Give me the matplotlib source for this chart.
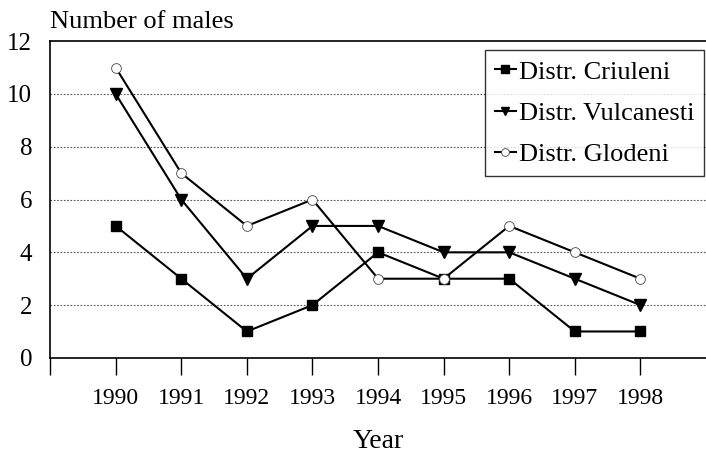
import matplotlib
matplotlib.use("Agg")
import matplotlib.pyplot as plt

years = [1990, 1991, 1992, 1993, 1994, 1995, 1996, 1997, 1998]
criuleni = [5, 3, 1, 2, 4, 3, 3, 1, 1]
vulcanesti = [10, 6, 3, 5, 5, 4, 4, 3, 2]
glodeni = [11, 7, 5, 6, 3, 3, 5, 4, 3]
yticks = [0, 2, 4, 6, 8, 10, 12]

plt.rcParams['font.family'] = ['Liberation Serif', 'DejaVu Serif']

fig = plt.figure(figsize=(7.06, 4.53), dpi=100)
ax = fig.add_axes([0.071, 0.21, 0.929, 0.699])

ax.plot(years, criuleni, color='black', lw=1.5, marker='s', ms=7,
        label='Distr. Criuleni')
ax.plot(years, vulcanesti, color='black', lw=1.5, marker='v', ms=8,
        label='Distr. Vulcanesti')
ax.plot(years, glodeni, color='black', lw=1.5, marker='o', ms=7,
        mfc='white', mec='#444444', mew=0.6, label='Distr. Glodeni')

ax.set_xlim(1989, 1999)
ax.set_ylim(0, 12)
ax.set_yticks(yticks)
ax.set_xticks([1989] + years)
ax.set_xticklabels([''] + [str(y) for y in years])
ax.tick_params(axis='x', length=12, width=1, pad=10, labelsize=17, direction='out')
ax.tick_params(axis='y', length=0, pad=13, labelsize=18)

for v in yticks[1:-1]:
    ax.axhline(v, color='#555555', lw=0.8, ls=(0, (1.5, 1.5)), zorder=0)

ax.spines['right'].set_visible(False)
for s in ['left', 'bottom', 'top']:
    ax.spines[s].set_linewidth(1.2)

fig.text(0.071, 0.952, 'Number of males', fontsize=19, ha='left', va='center')
ax.set_xlabel('Year', fontsize=20, labelpad=14)

leg = ax.legend(loc='upper right', bbox_to_anchor=(0.997, 0.972), fontsize=19,
                frameon=True, fancybox=False, edgecolor='black',
                handlelength=0.8, handletextpad=0.1, borderpad=0.38,
                labelspacing=0.68, borderaxespad=0, markerscale=0.8)
leg.get_frame().set_linewidth(1.0)

fig.savefig('out.png', dpi=100)
